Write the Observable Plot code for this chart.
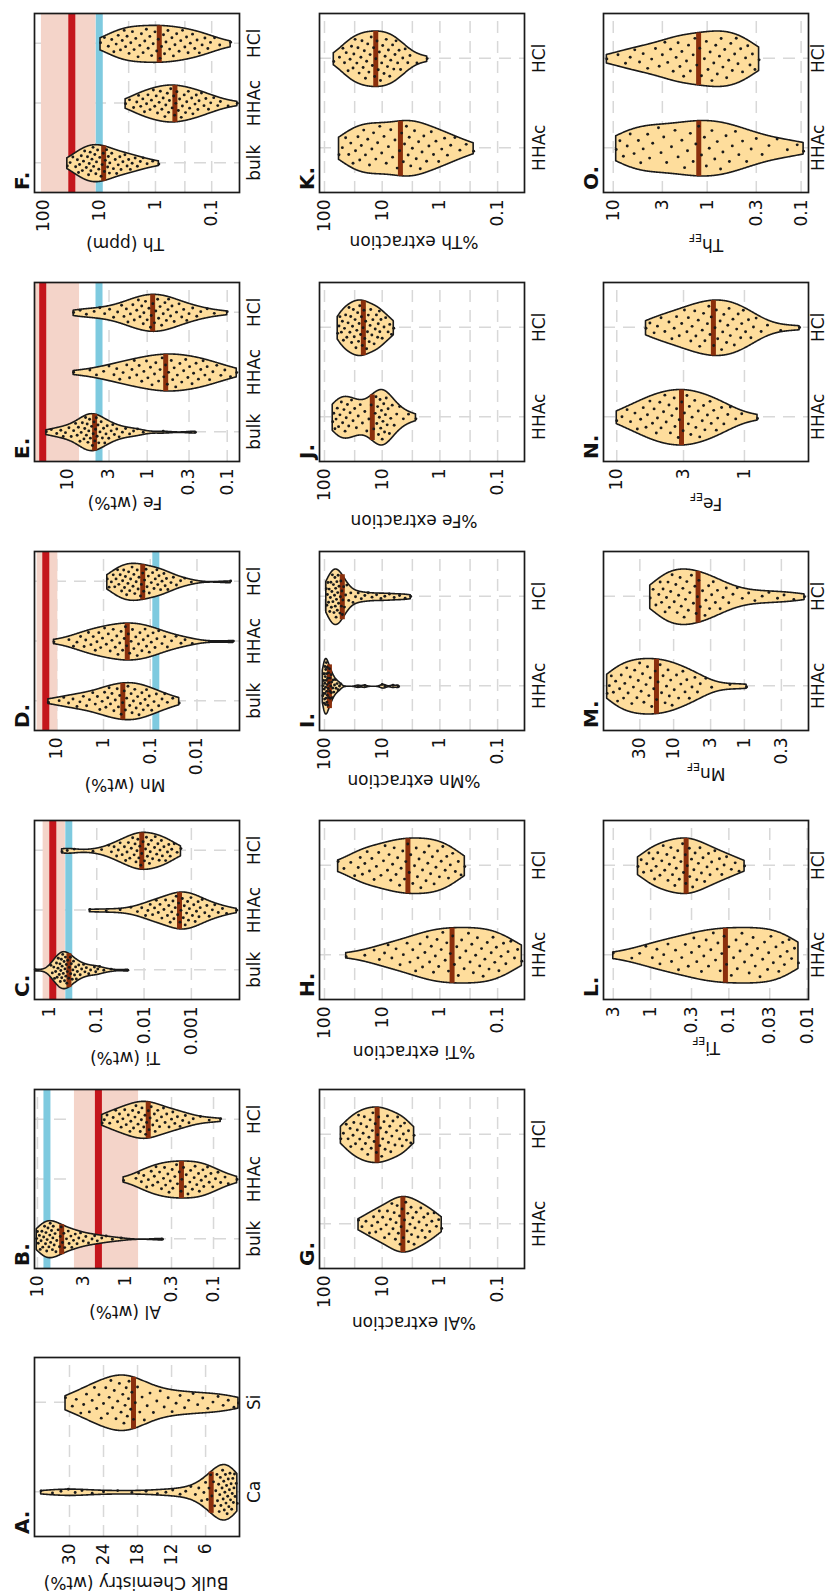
<!DOCTYPE html>
<html><head><meta charset="utf-8">
<script src="https://cdn.jsdelivr.net/npm/d3@7"></script>
<script src="https://cdn.jsdelivr.net/npm/@observablehq/plot@0.6"></script>
<style>
html,body{margin:0;padding:0;background:#fff;width:827px;height:1596px;overflow:hidden;}
#fig{position:absolute;left:0;top:0;width:1596px;height:827px;transform-origin:0 0;transform:translate(0px,1596px) rotate(-90deg);font-family:"DejaVu Sans",sans-serif;}
#fig svg{position:absolute;overflow:visible;}
</style></head><body><div id="fig"></div>
<script>
// ---------- categories ----------
const catsBulk = ["Ca", "Si"];
const cats3 = ["bulk", "HHAc", "HCl"];
const cats2 = ["HHAc", "HCl"];

// ---------- tick values ----------
const ticksA = [30, 24, 18, 12, 6];
const ticksB = [10, 3, 1, 0.3, 0.1];
const ticksC = [1, 0.1, 0.01, 0.001];
const ticksD = [10, 1, 0.1, 0.01];
const ticksE = [10, 3, 1, 0.3, 0.1];
const ticksF = [100, 30, 10, 3, 1, 0.3, 0.1];
const ticksExt = [100, 30, 10, 3, 1, 0.3, 0.1];
const ticksL = [3, 1, 0.3, 0.1, 0.03, 0.01];
const ticksM = [30, 10, 3, 1, 0.3];
const ticksN = [10, 3, 1];
const ticksO = [10, 3, 1, 0.3, 0.1];

// ---------- reference values (panels B-F): band [low, high], red line, blue line ----------
const refBand = [[0.71, 3.8], [0.46, 1.36], [9.5, 26.3], [7.0, 40], [11.4, 107]];
const refRed = [2.03, 0.85, 17.2, 20.2, 30.8];
const refBlue = [7.8, 0.39, 0.076, 4.0, 10.0];

// ---------- data ----------
const A_Ca = [35.0,33.0,31.5,30.2,29.0,27.8,26.0,24.0,21.5,19.0,16.5,14.5,13.0,11.8,10.5,9.5,8.6,7.8,7.2,6.7,6.3,6.0,5.7,5.4,5.1,4.9,4.6,4.4,4.2,4.0,3.9,3.7,3.6,3.5,3.4,3.3,3.1,3.0,2.9,2.8,2.7,2.6,2.5,2.4,2.3,2.2,2.1,2.0,1.9,1.8,1.7,1.6,1.5,1.4,1.3,1.2,1.1,1.0,0.9,0.8,0.6,0.4];
const A_Si = [30.7,29.5,28.8,28.0,27.5,27.0,26.5,26.0,25.6,25.2,24.8,24.4,24.0,23.6,23.3,23.0,22.7,22.4,22.1,21.8,21.5,21.2,20.9,20.6,20.4,20.2,20.0,19.8,19.6,19.5,19.2,19.0,18.7,18.4,18.0,17.6,17.2,16.8,16.3,15.8,15.2,14.6,14.0,13.3,12.6,11.9,11.2,10.5,9.7,9.0,8.2,7.4,6.5,5.6,4.7,3.8,2.9,2.0,1.0,0.2];

const B_bulk = [10.2,10.0,9.8,9.5,9.3,9.1,8.9,8.7,8.5,8.3,8.1,8.0,7.85,7.76,7.59,7.41,7.24,7.16,7.08,6.92,6.76,6.68,6.61,6.46,6.31,6.17,6.03,5.82,5.62,5.5,5.37,5.19,5.01,4.9,4.68,4.47,4.37,4.17,4.07,3.89,3.72,3.55,3.39,3.24,3.02,2.82,2.63,2.4,2.24,2.09,1.86,1.66,1.41,1.12,0.38];
const B_HHAc = [1.05,0.76,0.71,0.66,0.62,0.575,0.55,0.51,0.49,0.47,0.45,0.43,0.41,0.39,0.37,0.36,0.35,0.33,0.32,0.31,0.295,0.29,0.275,0.263,0.257,0.245,0.234,0.229,0.219,0.209,0.204,0.195,0.186,0.182,0.174,0.166,0.162,0.155,0.148,0.145,0.138,0.132,0.129,0.123,0.117,0.112,0.107,0.102,0.095,0.089,0.083,0.074,0.068,0.054];
const B_HCl = [1.84,1.74,1.62,1.51,1.38,1.29,1.23,1.17,1.12,1.07,1.02,0.98,0.93,0.89,0.87,0.83,0.81,0.78,0.76,0.72,0.71,0.68,0.66,0.65,0.62,0.60,0.59,0.575,0.55,0.54,0.525,0.51,0.49,0.47,0.46,0.44,0.43,0.41,0.39,0.37,0.355,0.34,0.32,0.30,0.29,0.275,0.257,0.24,0.224,0.209,0.19,0.17,0.141,0.112,0.083];

const C_bulk = [2.0,0.93,0.87,0.81,0.78,0.74,0.71,0.69,0.66,0.65,0.62,0.60,0.59,0.575,0.56,0.55,0.54,0.525,0.51,0.49,0.48,0.47,0.46,0.45,0.44,0.43,0.42,0.41,0.39,0.38,0.36,0.355,0.345,0.33,0.32,0.31,0.295,0.28,0.27,0.257,0.24,0.224,0.209,0.19,0.178,0.166,0.148,0.135,0.112,0.105,0.095,0.087,0.071,0.05,0.022];
const C_HHAc = [0.14,0.063,0.032,0.019,0.0138,0.0112,0.0093,0.0083,0.0074,0.0066,0.0060,0.0055,0.0050,0.0046,0.0042,0.0038,0.0035,0.0032,0.0030,0.0028,0.0026,0.00245,0.00234,0.00219,0.00209,0.00195,0.00186,0.00174,0.00166,0.00155,0.00148,0.00141,0.00135,0.00126,0.0012,0.00115,0.0011,0.00102,0.00095,0.00089,0.00083,0.00078,0.00072,0.00069,0.00065,0.00059,0.00052,0.00047,0.00042,0.00036,0.00032,0.00027,0.00022,0.00018,0.00011];
const C_HCl = [0.54,0.42,0.30,0.12,0.079,0.056,0.049,0.043,0.038,0.035,0.032,0.029,0.026,0.0245,0.0229,0.0214,0.020,0.0186,0.0174,0.0162,0.0155,0.0148,0.0141,0.0135,0.0129,0.0123,0.0117,0.0112,0.0105,0.0098,0.0093,0.0089,0.0085,0.0081,0.0077,0.0074,0.0070,0.0066,0.0060,0.0058,0.0054,0.0051,0.0048,0.0046,0.0043,0.0041,0.0038,0.0035,0.0032,0.0030,0.0028,0.0026,0.0023,0.0020,0.00166];

const D_bulk = [15.1,8.9,7.1,5.6,4.5,3.7,3.2,2.7,2.3,2.0,1.7,1.5,1.35,1.2,1.07,0.95,0.89,0.81,0.76,0.71,0.66,0.60,0.56,0.51,0.48,0.45,0.42,0.39,0.36,0.34,0.32,0.30,0.275,0.257,0.245,0.229,0.214,0.20,0.186,0.174,0.162,0.151,0.141,0.129,0.120,0.112,0.105,0.093,0.083,0.074,0.066,0.056,0.049,0.043,0.033,0.024];
const D_HHAc = [11.5,5.5,4.4,3.7,3.1,2.6,2.4,2.1,1.86,1.66,1.5,1.38,1.26,1.15,1.05,0.95,0.87,0.79,0.72,0.66,0.62,0.56,0.52,0.49,0.45,0.42,0.39,0.36,0.34,0.32,0.295,0.275,0.257,0.24,0.224,0.204,0.19,0.178,0.166,0.151,0.141,0.129,0.12,0.112,0.105,0.095,0.087,0.079,0.072,0.066,0.056,0.049,0.043,0.035,0.028,0.022,0.018,0.0126,0.00166];
const D_HCl = [0.83,0.76,0.68,0.62,0.575,0.54,0.50,0.47,0.44,0.41,0.39,0.37,0.355,0.34,0.32,0.30,0.29,0.275,0.263,0.245,0.234,0.224,0.214,0.20,0.19,0.182,0.174,0.162,0.155,0.145,0.138,0.132,0.123,0.117,0.11,0.105,0.095,0.089,0.083,0.078,0.072,0.069,0.065,0.060,0.056,0.051,0.048,0.045,0.042,0.036,0.032,0.0275,0.0224,0.0182,0.0132,0.0019];

const E_bulk = [18.2,15.8,13.5,12.0,11.2,10.5,9.5,8.9,8.3,7.85,7.5,7.24,6.92,6.68,6.46,6.17,6.03,5.89,5.75,5.62,5.5,5.37,5.25,5.13,4.95,4.84,4.73,4.62,4.52,4.42,4.32,4.22,4.12,4.03,3.89,3.76,3.63,3.51,3.39,3.27,3.16,3.02,2.82,2.69,2.57,2.4,2.24,2.04,1.86,1.66,1.48,1.32,1.12,0.63,0.25];
const E_HHAc = [8.3,5.2,4.3,3.5,3.0,2.6,2.4,2.2,2.0,1.8,1.66,1.55,1.45,1.35,1.26,1.17,1.1,1.02,0.98,0.91,0.87,0.81,0.78,0.72,0.69,0.65,0.62,0.59,0.56,0.54,0.50,0.48,0.46,0.44,0.42,0.39,0.37,0.35,0.33,0.31,0.295,0.275,0.263,0.245,0.229,0.214,0.20,0.19,0.178,0.166,0.151,0.135,0.12,0.107,0.091,0.076];
const E_HCl = [8.3,6.9,5.75,4.6,3.9,3.4,2.95,2.63,2.34,2.09,1.95,1.82,1.74,1.62,1.51,1.45,1.35,1.29,1.23,1.17,1.12,1.1,1.05,1.0,0.95,0.91,0.89,0.85,0.81,0.78,0.74,0.72,0.69,0.66,0.63,0.60,0.575,0.55,0.54,0.51,0.49,0.46,0.43,0.40,0.37,0.35,0.32,0.30,0.27,0.24,0.214,0.178,0.145,0.1];

const F_bulk = [37,33,29.5,26.3,24.5,23.4,22.4,20.9,20.0,19.1,18.2,17.0,16.2,15.5,15.1,14.5,14.1,13.5,12.9,12.6,12.0,11.5,11.2,10.7,10.2,9.8,9.3,8.9,8.5,8.1,7.8,7.4,7.1,6.9,6.6,6.5,6.0,5.6,5.2,4.9,4.6,4.3,4.1,3.8,3.5,3.2,3.0,2.8,2.6,2.3,2.1,1.86,1.66,1.41,1.12,0.87];
const F_HHAc = [3.4,2.9,2.45,2.15,2.0,1.83,1.68,1.57,1.44,1.36,1.25,1.18,1.09,1.03,0.97,0.92,0.86,0.82,0.77,0.73,0.68,0.655,0.615,0.585,0.565,0.535,0.505,0.475,0.455,0.435,0.415,0.392,0.372,0.348,0.332,0.308,0.292,0.278,0.26,0.247,0.227,0.216,0.198,0.188,0.176,0.168,0.152,0.137,0.127,0.114,0.104,0.092,0.078,0.07,0.051,0.035];
const F_HCl = [9.5,8.1,6.9,6.0,5.5,5.0,4.6,4.2,3.9,3.6,3.4,3.2,2.95,2.75,2.57,2.4,2.24,2.04,1.9,1.78,1.66,1.55,1.45,1.35,1.26,1.17,1.1,1.02,0.95,0.89,0.83,0.78,0.72,0.69,0.65,0.60,0.56,0.51,0.48,0.45,0.42,0.38,0.355,0.33,0.30,0.28,0.263,0.24,0.219,0.20,0.182,0.166,0.148,0.132,0.117,0.105,0.089,0.072,0.046];

const G_HHAc = [25.7,22.4,19.1,16.6,15.1,14.1,12.9,12.0,11.2,10.5,9.8,9.1,8.5,8.1,7.6,7.2,6.8,6.5,6.2,5.9,5.75,5.5,5.25,5.0,4.9,4.7,4.5,4.3,4.1,3.9,3.7,3.6,3.5,3.3,3.16,3.1,2.95,2.8,2.7,2.57,2.4,2.3,2.14,2.04,1.9,1.8,1.7,1.62,1.5,1.38,1.26,1.15,1.05,0.93];
const G_HCl = [52,47,42,39,36,35,32,31,29,27,25.7,24.5,23.4,22.4,21.4,20.4,19.5,18.6,17.8,17.0,16.2,15.5,14.8,14.5,13.8,13.2,12.6,12.0,11.5,11.0,10.7,10.2,9.8,9.3,8.9,8.5,8.1,7.8,7.4,7.1,6.8,6.5,6.0,5.6,5.4,5.0,4.8,4.5,4.3,4.1,3.8,3.5,3.2,2.8];

const H_HHAc = [42,20,13.8,11.2,9.1,7.9,6.8,5.75,4.9,4.3,3.7,3.3,2.95,2.63,2.4,2.2,2.0,1.82,1.66,1.51,1.41,1.29,1.2,1.12,1.05,0.95,0.89,0.81,0.76,0.71,0.66,0.60,0.56,0.51,0.48,0.45,0.42,0.38,0.355,0.32,0.30,0.28,0.263,0.24,0.224,0.204,0.19,0.178,0.166,0.151,0.141,0.129,0.12,0.112,0.105,0.095,0.087,0.079,0.072,0.066,0.059,0.051,0.045,0.038];
const H_HCl = [58,46,35,30,26,24,22,20,18.2,16.6,15.1,13.8,12.6,11.5,10.5,9.5,8.9,8.1,7.6,7.1,6.6,6.2,5.75,5.4,5.0,4.7,4.4,4.1,3.9,3.6,3.4,3.2,2.95,2.75,2.57,2.45,2.3,2.14,2.0,1.86,1.74,1.62,1.55,1.45,1.35,1.26,1.17,1.1,1.02,0.95,0.89,0.81,0.76,0.71,0.66,0.60,0.54,0.48,0.43,0.37];

const I_HHAc = [107,106,105,104,103,102,101,100,99.5,99,98,97.5,97,96,95.5,95,94,93.5,93,92,91.5,91,90,89.5,89,88,87.5,86,85,84,83,82,81,80,79,78,77,76,75,73.5,72,70.5,69,67,65,63,60.5,58,55,52,26,20,10,9,6.5,5.2];
const I_HCl = [93,91,89,87,85,83,81,79,77.5,76,74.5,73,71.5,70,68.5,67,66,65,64,63,62,61,60,59,58,57,56,54,53,52,51,50,49,48,46.5,45,43,41,38,35,32,29,26,23,20,17.5,15,12.5,10.5,9,7.5,6.2,5,4,3.2];

const J_HHAc = [72,69,66,63,60,57,54,51,48.5,46,44,42,40,38,36,34,32,30,28,26,24,22,20,18.5,17,15.5,14,13.2,12.8,12.4,12.0,11.6,11.2,10.9,10.6,10.3,10.0,9.7,9.4,9.1,8.8,8.5,8.2,7.9,7.5,7.1,6.7,6.2,5.6,5.0,4.3,3.5,2.6];
const J_HCl = [59,56,54,51,49,47,45,43,41,39,37.6,36.3,35.1,33.9,32.7,31.6,30.5,29.5,28.5,27.5,26.6,25.7,25.1,24.5,23.7,22.9,22.1,21.4,20.7,20.0,19.3,18.6,18.0,17.4,16.8,16.2,15.8,15.1,14.5,13.8,13.2,12.6,12.0,11.7,11.2,11.0,10.5,10.0,9.3,8.7,7.9,7.4,6.9,6.3];

const K_HHAc = [56,49,43,38,35,32,29,26.3,24.5,23,20.9,19.5,17.8,16.6,15.1,14.1,12.9,12.0,11.0,10.2,9.3,8.5,7.8,7.1,6.6,6.0,5.5,5.0,4.6,4.3,4.1,3.8,3.55,3.4,3.2,3.0,2.75,2.57,2.34,2.19,2.04,1.9,1.7,1.55,1.41,1.29,1.17,1.05,0.93,0.83,0.74,0.65,0.55,0.45,0.35,0.26];
const K_HCl = [69,55,48,45,42,39,36,34,32,31,29.5,27.5,26.3,25.1,23.4,22.4,21.4,20.4,19.5,18.6,17.8,17.0,16.2,15.5,14.8,14.1,13.5,12.9,12.3,11.7,11.2,10.7,10.2,9.8,9.3,8.9,8.5,8.1,7.8,7.4,7.1,6.6,6.3,6.0,5.75,5.4,5.1,4.8,4.4,4.0,3.6,3.3,2.5,1.66];

const L_HHAc = [3.0,1.74,1.38,1.15,0.95,0.83,0.76,0.68,0.60,0.54,0.48,0.44,0.40,0.36,0.33,0.30,0.28,0.257,0.24,0.224,0.209,0.195,0.182,0.17,0.158,0.148,0.138,0.129,0.123,0.115,0.107,0.1,0.093,0.087,0.081,0.078,0.072,0.068,0.063,0.059,0.055,0.051,0.049,0.046,0.043,0.04,0.037,0.035,0.032,0.031,0.029,0.027,0.025,0.023,0.022,0.0205,0.0195,0.018,0.017,0.0158,0.0145,0.0129];
const L_HCl = [1.45,1.32,1.23,1.12,1.05,0.98,0.93,0.89,0.85,0.81,0.76,0.72,0.69,0.66,0.62,0.60,0.575,0.55,0.525,0.50,0.49,0.47,0.45,0.43,0.41,0.39,0.38,0.36,0.355,0.34,0.32,0.316,0.30,0.29,0.28,0.27,0.257,0.245,0.234,0.224,0.214,0.204,0.19,0.182,0.174,0.166,0.151,0.141,0.132,0.123,0.115,0.107,0.093,0.083,0.074,0.063];

const M_HHAc = [87,81,76,71,66,62,58,55,51,49,46,44,41,39,37,35.5,33,31.6,30.2,28.8,27.5,26.3,24.5,23.4,22.4,21.4,20.4,19.1,18.2,17.4,16.6,15.5,14.8,14.1,13.2,12.6,12.0,11.5,11.0,10.5,9.8,9.1,8.5,7.9,7.4,6.9,6.5,6.0,5.5,5.0,4.6,4.2,3.5,2.9,1.6,0.93];
const M_HCl = [21.4,19.5,17.8,16.2,15.5,14.8,14.1,13.2,12.6,12.0,11.5,11.0,10.5,9.8,9.3,8.9,8.5,8.1,7.8,7.4,7.1,6.8,6.5,6.2,5.9,5.6,5.25,5.0,4.8,4.6,4.4,4.2,3.9,3.6,3.5,3.2,3.1,2.9,2.75,2.57,2.4,2.2,2.0,1.8,1.66,1.45,1.26,1.07,0.87,0.71,0.56,0.45,0.34,0.275,0.2,0.141];

const N_HHAc = [10.0,9.1,8.3,7.8,7.2,6.9,6.5,6.2,5.9,5.75,5.5,5.25,5.1,4.9,4.8,4.6,4.5,4.3,4.2,4.1,3.9,3.8,3.7,3.55,3.5,3.4,3.3,3.24,3.1,3.02,2.95,2.82,2.75,2.7,2.63,2.57,2.45,2.4,2.3,2.24,2.14,2.09,2.04,1.95,1.86,1.82,1.74,1.66,1.62,1.51,1.45,1.35,1.29,1.17,1.05,0.79];
const N_HCl = [5.9,5.5,5.1,4.8,4.5,4.2,3.9,3.7,3.55,3.4,3.24,3.1,2.95,2.82,2.75,2.63,2.57,2.45,2.4,2.3,2.24,2.14,2.09,2.04,1.95,1.9,1.86,1.82,1.74,1.7,1.66,1.62,1.55,1.51,1.48,1.45,1.38,1.35,1.32,1.29,1.23,1.2,1.15,1.12,1.07,1.05,1.02,0.98,0.93,0.89,0.85,0.81,0.74,0.66,0.52,0.37];

const O_HHAc = [9.3,8.5,7.8,7.1,6.6,6.0,5.4,5.1,4.8,4.3,4.1,3.8,3.3,3.1,2.9,2.7,2.4,2.2,2.04,1.86,1.74,1.62,1.51,1.41,1.32,1.23,1.15,1.07,1.02,0.95,0.89,0.83,0.78,0.72,0.68,0.63,0.58,0.54,0.5,0.46,0.42,0.38,0.34,0.3,0.26,0.22,0.18,0.14,0.11,0.094];
const O_HCl = [11.7,8.9,7.4,6.6,5.9,5.25,4.8,4.3,3.9,3.55,3.24,3.0,2.82,2.63,2.45,2.3,2.14,2.04,1.95,1.86,1.78,1.66,1.58,1.51,1.41,1.35,1.29,1.2,1.15,1.07,1.02,0.98,0.93,0.89,0.85,0.81,0.78,0.74,0.71,0.68,0.65,0.62,0.59,0.56,0.54,0.51,0.49,0.47,0.44,0.42,0.39,0.37,0.35,0.33,0.31,0.28];

// ---------- style ----------
const INK = "#1a1a1a", FILL = "#fedd9c", MED = "#8b2f0c", GRID = "#d8d8d8";
const BAND = "#f4d4c9", RED = "#c4161c", BLUE = "#7ecadf";
const HALF = 0.31;
const rowTop = [34, 318.5, 603];
const rowPad = [8, 8, 3];
const colLeft = [59, 327, 596, 865, 1134, 1403];
const PW = 179, PH = 205;

const panels = [
  {id:"A.", row:0, col:0, cats:catsBulk, groups:[A_Ca, A_Si], type:"linear", domain:[0.02, 36.17], ticks:ticksA, title:["Bulk Chemistry (wt%)"], tx:13, ty:136},
  {id:"B.", row:0, col:1, cats:cats3, groups:[B_bulk, B_HHAc, B_HCl], type:"log", domain:[0.0507, 10.8], ticks:ticksB, ref:0, title:["Al (wt%)"], tx:284, ty:125},
  {id:"C.", row:0, col:2, cats:cats3, groups:[C_bulk, C_HHAc, C_HCl], type:"log", domain:[9.6e-5, 2.07], ticks:ticksC, ref:1, title:["Ti (wt%)"], tx:538, ty:125},
  {id:"D.", row:0, col:3, cats:cats3, groups:[D_bulk, D_HHAc, D_HCl], type:"log", domain:[0.00123, 30], ticks:ticksD, ref:2, title:["Mn (wt%)"], tx:811, ty:125},
  {id:"E.", row:0, col:4, cats:cats3, groups:[E_bulk, E_HHAc, E_HCl], type:"log", domain:[0.0702, 25.6], ticks:ticksE, ref:3, title:["Fe (wt%)"], tx:1093, ty:125},
  {id:"F.", row:0, col:5, cats:cats3, groups:[F_bulk, F_HHAc, F_HCl], type:"log", domain:[0.032, 142], ticks:ticksF, ref:4, title:["Th (ppm)"], tx:1352, ty:125},
  {id:"G.", row:1, col:1, cats:cats2, groups:[G_HHAc, G_HCl], type:"log", domain:[0.0342, 122], ticks:ticksExt, title:["%Al extraction"], tx:273, ty:414},
  {id:"H.", row:1, col:2, cats:cats2, groups:[H_HHAc, H_HCl], type:"log", domain:[0.0342, 122], ticks:ticksExt, title:["%Ti extraction"], tx:544, ty:414},
  {id:"I.", row:1, col:3, cats:cats2, groups:[I_HHAc, I_HCl], type:"log", domain:[0.0342, 122], ticks:ticksExt, title:["%Mn extraction"], tx:815, ty:414},
  {id:"J.", row:1, col:4, cats:cats2, groups:[J_HHAc, J_HCl], type:"log", domain:[0.0342, 122], ticks:ticksExt, title:["%Fe extraction"], tx:1075, ty:414},
  {id:"K.", row:1, col:5, cats:cats2, groups:[K_HHAc, K_HCl], type:"log", domain:[0.0342, 122], ticks:ticksExt, title:["%Th extraction"], tx:1354, ty:414},
  {id:"L.", row:2, col:2, cats:cats2, groups:[L_HHAc, L_HCl], type:"log", domain:[0.0096, 4.0], ticks:ticksL, title:["Ti","EF"], tx:548, ty:706},
  {id:"M.", row:2, col:3, cats:cats2, groups:[M_HHAc, M_HCl], type:"log", domain:[0.124, 98], ticks:ticksM, title:["Mn","EF"], tx:822, ty:706},
  {id:"N.", row:2, col:4, cats:cats2, groups:[N_HHAc, N_HCl], type:"log", domain:[0.315, 12.7], ticks:ticksN, title:["Fe","EF"], tx:1092, ty:706},
  {id:"O.", row:2, col:5, cats:cats2, groups:[O_HHAc, O_HCl], type:"log", domain:[0.0834, 12.7], ticks:ticksO, title:["Th","EF"], tx:1351, ty:706}
];

const fig = document.getElementById("fig");
const mL = 75, mR = 10, mT = 12, mB = 40;

function violinParts(vals, c, isLog, gi) {
  const f = isLog ? Math.log10 : d => d;
  const fi = isLog ? t => Math.pow(10, t) : t => t;
  const t = vals.map(f).sort(d3.ascending);
  const n = t.length;
  const sd = d3.deviation(t);
  const iqr = d3.quantile(t, 0.75) - d3.quantile(t, 0.25);
  let s = Math.min(sd, iqr / 1.34);
  if (!(s > 0)) s = sd;
  const bw = 0.9 * s * Math.pow(n, -0.2);
  const t0 = t[0], t1 = t[n - 1], K = 300;
  const grid = d3.range(K).map(i => t0 + (t1 - t0) * i / (K - 1));
  const dens = grid.map(g => d3.sum(t, x => Math.exp(-0.5 * ((g - x) / bw) ** 2)));
  const dmax = d3.max(dens);
  const hw = dens.map(d => d / dmax * HALF);
  const pts = grid.map((g, i) => ({v: fi(g), x1: c - hw[i], x2: c + hw[i]}));
  const hwAt = x => {
    const p = (x - t0) / (t1 - t0) * (K - 1);
    const i = Math.max(0, Math.min(K - 2, Math.floor(p)));
    const fr = p - i;
    return hw[i] * (1 - fr) + hw[i + 1] * fr;
  };
  // median from the density (as ggplot draw_quantiles)
  const cum = Array.from(d3.cumsum(dens));
  const tot = cum[K - 1];
  let k = cum.findIndex(v => v >= tot / 2);
  if (k < 1) k = 1;
  const fr = (tot / 2 - cum[k - 1]) / (cum[k] - cum[k - 1]);
  const tm = grid[k - 1] + fr * (grid[k] - grid[k - 1]);
  const hm = hwAt(tm);
  const med = {v: fi(tm), x1: c - hm, x2: c + hm};
  const dots = t.map((x, i) => {
    const u = ((i * 0.6180339887 + gi * 0.29 + 0.13) % 1) * 2 - 1;
    return {v: fi(x), x: c + u * hwAt(x) * 0.84};
  });
  return {pts, med, dots};
}

panels.forEach(p => {
  const n = p.cats.length;
  const isLog = p.type === "log";
  const marks = [];
  const cats = d3.range(1, n + 1);
  marks.push(Plot.ruleY(p.ticks, {stroke: GRID, strokeWidth: 1.5, strokeDasharray: "12,8"}));
  marks.push(Plot.ruleX(cats, {stroke: GRID, strokeWidth: 1.5, strokeDasharray: "12,8"}));
  if (p.ref !== undefined) {
    const band = refBand[p.ref];
    marks.push(Plot.rect([band], {x1: () => 0.5, x2: () => n + 0.5, y1: d => d[0], y2: d => d[1], fill: BAND, clip: true}));
    marks.push(Plot.ruleY([refRed[p.ref]], {stroke: RED, strokeWidth: 7}));
    marks.push(Plot.ruleY([refBlue[p.ref]], {stroke: BLUE, strokeWidth: 7}));
  }
  const meds = [], dots = [];
  p.groups.forEach((vals, gi) => {
    const r = violinParts(vals, gi + 1, isLog, gi);
    marks.push(Plot.areaX(r.pts, {y: "v", x1: "x1", x2: "x2", fill: FILL, stroke: INK, strokeWidth: 1.6, strokeLinejoin: "round", clip: true}));
    meds.push(r.med);
    dots.push(...r.dots);
  });
  marks.push(Plot.ruleY(meds, {y: "v", x1: "x1", x2: "x2", stroke: MED, strokeWidth: 5}));
  marks.push(Plot.dot(dots, {x: "x", y: "v", r: 1.45, fill: INK, stroke: null}));
  marks.push(Plot.frame({stroke: INK, strokeWidth: 1.7}));
  const svg = Plot.plot({
    width: PW + mL + mR, height: PH + mT + mB,
    marginLeft: mL, marginRight: mR, marginTop: mT, marginBottom: mB,
    style: {fontFamily: "DejaVu Sans, sans-serif", fontSize: "17px", color: "#111", background: "transparent", overflow: "visible"},
    x: {domain: [0.5, n + 0.5], ticks: cats, tickFormat: i => p.cats[i - 1], tickSize: 0, tickPadding: rowPad[p.row], label: null},
    y: {type: p.type, domain: p.domain, ticks: p.ticks, tickFormat: d => String(d), tickSize: 0, tickPadding: 7, label: null},
    marks
  });
  svg.style.left = (colLeft[p.col] - mL) + "px";
  svg.style.top = (rowTop[p.row] - mT) + "px";
  fig.appendChild(svg);
});

// titles and panel tags
const ov = d3.select(fig).append("svg").attr("width", 1596).attr("height", 827)
  .style("left", "0px").style("top", "0px")
  .attr("font-family", "DejaVu Sans, sans-serif").attr("fill", "#111");
panels.forEach(p => {
  ov.append("text").attr("x", colLeft[p.col] + 3).attr("y", rowTop[p.row] - 5)
    .attr("font-size", 20).attr("font-weight", "bold").text(p.id);
  const t = ov.append("text").attr("x", p.tx).attr("y", p.ty)
    .attr("transform", `rotate(-90,${p.tx},${p.ty})`)
    .attr("text-anchor", "middle").attr("dy", "0.36em").attr("font-size", 17);
  t.append("tspan").text(p.title[0]);
  if (p.title[1]) t.append("tspan").attr("font-size", 11).attr("dy", 5).text(p.title[1]);
});
</script></body></html>
